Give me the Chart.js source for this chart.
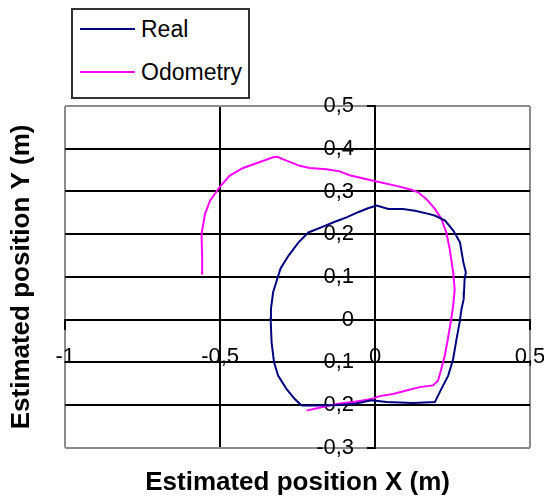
<!DOCTYPE html>
<html>
<head>
<meta charset="utf-8">
<script src="https://cdn.jsdelivr.net/npm/chart.js@4.4.1/dist/chart.umd.min.js"></script>
<style>
    html, body { margin: 0; padding: 0; background: #fff; }
    #wrap { position: relative; width: 544px; height: 499px; }
    #legendBox {
        position: absolute; left: 71px; top: 8px; width: 179px; height: 91px;
        border: 2px solid #333; box-sizing: border-box; background: #fff;
        font-family: "Liberation Sans", Arial, sans-serif; font-size: 23px; color: #000;
    }
    .legend-row { position: absolute; left: 0; width: 100%; height: 30px; }
    .legend-line { position: absolute; left: 7px; width: 55px; height: 2px; top: 14px; }
    .legend-text { position: absolute; left: 68px; top: 0; line-height: 30px; white-space: nowrap; }
</style>
</head>
<body>
<div id="wrap">
    <canvas id="pathChart"></canvas>
    <div id="legendBox"></div>
</div>
<script>
// ==================== Data ====================

const seriesNames = ['Real', 'Odometry'];
const seriesColors = ['#000080', '#ff00ff'];

// Real trajectory (closed loop), metres
const realX = [-0.237, -0.259, -0.286, -0.313, -0.326, -0.334, -0.337, -0.336, -0.329, -0.318,
    -0.305, -0.279, -0.247, -0.215, -0.170, -0.130, -0.090, -0.053, -0.025,
    0.005, 0.043, 0.090, 0.129, 0.176, 0.194, 0.226, 0.253, 0.274, 0.285,
    0.293, 0.289, 0.287, 0.286, 0.279, 0.273, 0.263, 0.252, 0.236, 0.214,
    0.193, 0.123, 0.037, -0.012, -0.065, -0.119, -0.195, -0.237];
const realY = [-0.201, -0.186, -0.162, -0.131, -0.100, -0.053, 0.002, 0.025, 0.064, 0.090,
    0.120, 0.150, 0.181, 0.204, 0.217, 0.229, 0.240, 0.252, 0.260,
    0.267, 0.259, 0.259, 0.255, 0.247, 0.243, 0.232, 0.208, 0.181, 0.134,
    0.111, 0.095, 0.064, 0.048, 0.025, -0.006, -0.045, -0.092, -0.131, -0.162,
    -0.193, -0.195, -0.193, -0.189, -0.197, -0.200, -0.201, -0.201];

// Odometry estimate, metres
const odoX = [-0.558, -0.558, -0.560, -0.549, -0.533, -0.501, -0.469, -0.426, -0.383, -0.329,
    -0.316, -0.286, -0.243, -0.211, -0.157, -0.114, -0.082, -0.006, 0.069, 0.117,
    0.139, 0.166, 0.193, 0.214, 0.230, 0.241, 0.252, 0.257, 0.252, 0.246,
    0.235, 0.225, 0.214, 0.203, 0.187, 0.144, 0.101, 0.058, 0.015, -0.012,
    -0.065, -0.119, -0.173, -0.221];
const odoY = [0.105, 0.146, 0.200, 0.247, 0.278, 0.311, 0.337, 0.355, 0.366, 0.380,
    0.381, 0.372, 0.360, 0.355, 0.352, 0.347, 0.338, 0.325, 0.313, 0.304,
    0.298, 0.282, 0.259, 0.236, 0.204, 0.165, 0.111, 0.070, 0.033, 0.002,
    -0.045, -0.084, -0.115, -0.143, -0.154, -0.158, -0.166, -0.174, -0.179, -0.186,
    -0.192, -0.197, -0.205, -0.213];

// axis ranges / tick steps
const xRange = [-1, 0.5];
const xStep = 0.5;
const yRange = [-0.3, 0.5];
const yStep = 0.1;

const xTitle = 'Estimated position X (m)';
const yTitle = 'Estimated position Y (m)';

// ==================== Helpers ====================

const FONT = '"Liberation Sans", Arial, sans-serif';
const GRID_BLACK = '#000';
const GRID_EDGE = '#8c8c8c';
const Y_LABEL_GAP = 21;   // gap between y labels and the y axis

function toPoints(xs, ys) {
    return xs.map((x, i) => ({ x: x, y: ys[i] }));
}

/**
 * 소수점을 쉼표로 (0.5 -> 0,5)
 */
function commaLabel(value) {
    const v = Number(value.toFixed(2));
    return String(v).replace('.', ',');
}

/**
 * 가장자리 눈금선은 회색
 */
function edgeColor(range) {
    return (ctx) => {
        if (!ctx.tick) return GRID_BLACK;
        const v = ctx.tick.value;
        if (Math.abs(v - range[0]) < 1e-9 || Math.abs(v - range[1]) < 1e-9) {
            return GRID_EDGE;
        }
        return GRID_BLACK;
    };
}

function noEdgePadding(scale) {
    scale.paddingLeft = 0;
    scale.paddingRight = 0;
}

/**
 * Chart.js puts the labels of an axis positioned at {x: 0} right on the
 * axis line; push them left a bit like the original.
 */
function shiftYLabels(scale) {
    if (scale._labelShiftDone) return;
    const orig = scale._computeLabelItems;
    scale._computeLabelItems = function (area) {
        const items = orig.call(this, area);
        items.forEach(item => {
            item.options.translation[0] -= Y_LABEL_GAP;
        });
        return items;
    };
    scale._labelShiftDone = true;
}

// ==================== Chart ====================

const datasets = [
    { x: realX, y: realY },
    { x: odoX, y: odoY }
].map((s, i) => ({
    label: seriesNames[i],
    data: toPoints(s.x, s.y),
    borderColor: seriesColors[i],
    backgroundColor: seriesColors[i],
    borderWidth: 2,
    showLine: true,
    fill: false,
    tension: 0,
    pointRadius: 0
}));

const chart = new Chart(document.getElementById('pathChart'), {
    type: 'scatter',
    data: { datasets: datasets },
    options: {
        responsive: true,
        maintainAspectRatio: false,
        animation: false,
        layout: { padding: { top: 106, right: 14, bottom: 0, left: 0 } },
        plugins: {
            legend: { display: false },
            tooltip: { enabled: false },
            title: {
                display: true,
                position: 'bottom',
                fullSize: false,
                text: xTitle,
                color: '#000',
                font: { family: FONT, size: 26, weight: 'bold' },
                padding: { top: 19, bottom: 1 }
            },
            subtitle: {
                display: true,
                position: 'left',
                fullSize: false,
                text: yTitle,
                color: '#000',
                font: { family: FONT, size: 26, weight: 'bold' },
                padding: { top: 6, bottom: 28 }
            }
        },
        scales: {
            x: {
                type: 'linear',
                position: { y: 0 },
                min: xRange[0],
                max: xRange[1],
                afterFit: noEdgePadding,
                ticks: {
                    stepSize: xStep,
                    callback: commaLabel,
                    color: '#000',
                    font: { family: FONT, size: 22 },
                    padding: 15,
                    maxRotation: 0,
                    autoSkip: false
                },
                grid: {
                    color: edgeColor(xRange),
                    lineWidth: 2,
                    tickLength: 9,
                    tickColor: '#000',
                    tickWidth: 2
                },
                border: { color: '#000', width: 2 }
            },
            y: {
                type: 'linear',
                position: { x: 0 },
                min: yRange[0],
                max: yRange[1],
                afterUpdate: shiftYLabels,
                ticks: {
                    stepSize: yStep,
                    callback: commaLabel,
                    color: '#000',
                    font: { family: FONT, size: 22 },
                    autoSkip: false
                },
                grid: {
                    color: edgeColor(yRange),
                    lineWidth: 2,
                    tickLength: 7,
                    tickColor: '#000',
                    tickWidth: 2
                },
                border: { color: '#000', width: 2 }
            }
        }
    }
});

// ==================== Legend (HTML) ====================

function buildLegend() {
    const box = document.getElementById('legendBox');
    const rowTops = [4, 47];
    chart.data.datasets.forEach((ds, i) => {
        const row = document.createElement('div');
        row.className = 'legend-row';
        row.style.top = rowTops[i] + 'px';
        const line = document.createElement('div');
        line.className = 'legend-line';
        line.style.background = ds.borderColor;
        const text = document.createElement('div');
        text.className = 'legend-text';
        text.textContent = ds.label;
        row.appendChild(line);
        row.appendChild(text);
        box.appendChild(row);
    });
}

buildLegend();
</script>
</body>
</html>
